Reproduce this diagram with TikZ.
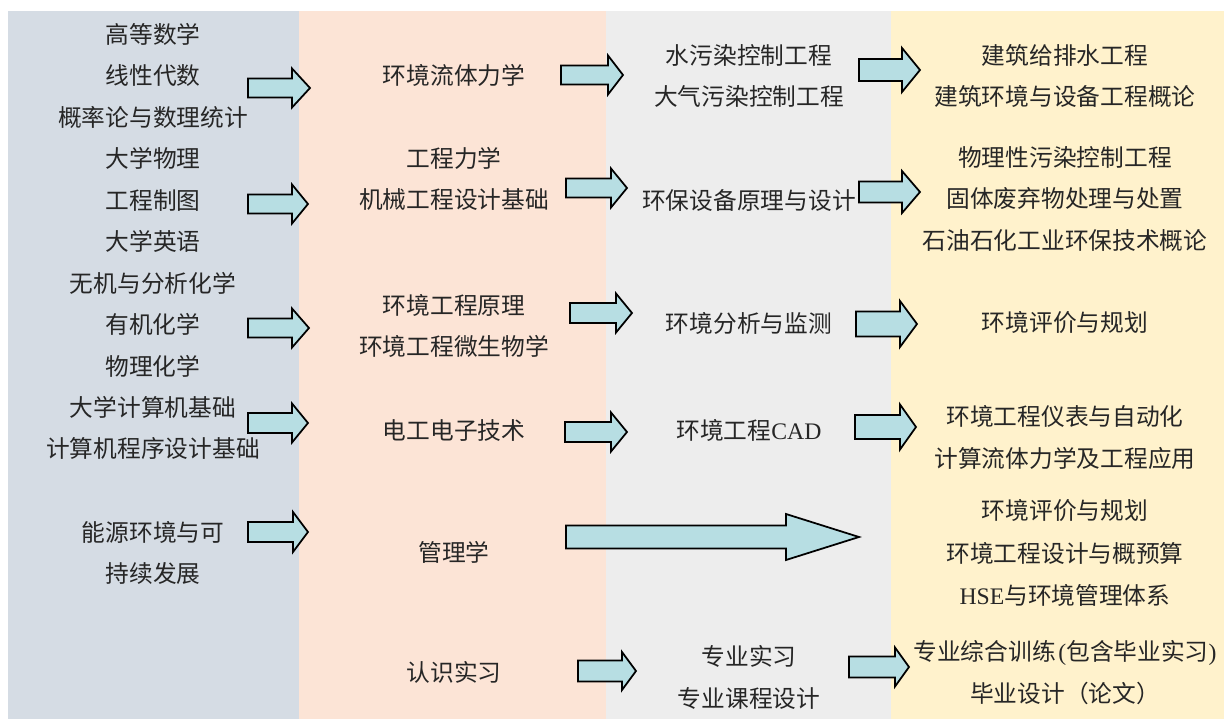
\documentclass[tikz,border=0pt]{standalone}
\usepackage{fontspec}
\setmainfont{Liberation Serif}
\newfontfamily\cjk{Noto Sans CJK SC}

\definecolor{colA}{HTML}{D5DCE4}
\definecolor{colB}{HTML}{FCE4D6}
\definecolor{colC}{HTML}{EDEDED}
\definecolor{colD}{HTML}{FFF2CC}
\definecolor{arrowfill}{HTML}{B7DEE3}

\tikzset{
  course/.style={align=center, inner sep=0pt, text=black!85,
    font=\cjk\fontsize{13.5}{23.6}\selectfont},
  fatarrow/.style={draw=black, fill=arrowfill, line width=1pt, line join=miter}
}

\begin{document}
\begin{tikzpicture}[x=0.02cm,y=-0.02cm]
			\useasboundingbox (0,0) rectangle (1224,719);
			
			% Draw column backgrounds
			\fill[colA] (8,11) rectangle (299,719);
			\fill[colB] (299,11) rectangle (606,719);
			\fill[colC] (606,11) rectangle (891,719);
			\fill[colD] (891,11) rectangle (1224,719);
			
			% Add labels, first column
			\node[course] (a1) at (153,75.5) {高等数学\\线性代数\\概率论与数理统计};
			\node[course] (a2) at (153,200) {大学物理\\工程制图\\大学英语};
			\node[course] (a3) at (153,324.5) {无机与分析化学\\有机化学\\物理化学};
			\node[course] (a4) at (153,428) {大学计算机基础\\计算机程序设计基础};
			\node[course] (a5) at (153,553) {能源环境与可\\持续发展};
			
			% second column
			\node[course] (b1) at (454,75) {环境流体力学};
			\node[course] (b2) at (454,179) {工程力学\\机械工程设计基础};
			\node[course] (b3) at (454,326) {环境工程原理\\环境工程微生物学};
			\node[course] (b4) at (454,430) {电工电子技术};
			\node[course] (b5) at (454,552) {管理学};
			\node[course] (b6) at (454,672) {认识实习};
			
			% third column
			\node[course] (c1) at (749,76) {水污染控制工程\\大气污染控制工程};
			\node[course] (c2) at (749,200) {环保设备原理与设计};
			\node[course] (c3) at (749,323) {环境分析与监测};
			\node[course] (c4) at (749,430) {环境工程{\rmfamily CAD}};
			\node[course] (c6) at (749,677.5) {专业实习\\专业课程设计};
			
			% fourth column
			\node[course] (d1) at (1065,76) {建筑给排水工程\\建筑环境与设备工程概论};
			\node[course] (d2) at (1065,199) {物理性污染控制工程\\固体废弃物处理与处置\\石油石化工业环保技术概论};
			\node[course] (d3) at (1065,323) {环境评价与规划};
			\node[course] (d4) at (1065,437.5) {环境工程仪表与自动化\\计算流体力学及工程应用};
			\node[course,font=\cjk\fontsize{13.5}{24.2}\selectfont] (d5) at (1065,553) {环境评价与规划\\环境工程设计与概预算\\{\rmfamily HSE}与环境管理体系};
			\node[course] (d6) at (1065,672.5) {专业综合训练\kern1.5pt{\rmfamily (}包含毕业实习{\rmfamily )}\\毕业设计（论文）};
			
			% Draw block arrows: start/tip/y/shaft/head/head length
			\foreach \xa/\xt/\yc/\hs/\hh/\hl in {
				248/310/88/9.5/19.5/18, 248/308/204/9.5/19.5/16,
				248/309/328/9.5/19.5/17, 248/308/423/10/19.5/16,
				248/308/532/10/20/15,
				561/623/75/9.5/19.5/15, 566/627/188/9.5/19.5/16,
				570/632/313/10/19.5/16, 565/627/432/10/19.5/16,
				566/859/537/11.5/23/73, 578/636/671/10.5/19/14,
				859/920/70/11/22/18, 859/920/192/10.5/21/18,
				856/917/324/12.5/23/17, 855/916/427/12/22.5/16,
				849/909/667/10.5/19.5/14} {
				\draw[fatarrow] (\xa,\yc-\hs) -- (\xt-\hl,\yc-\hs) -- (\xt-\hl,\yc-\hh)
					-- (\xt,\yc) -- (\xt-\hl,\yc+\hh) -- (\xt-\hl,\yc+\hs) -- (\xa,\yc+\hs) -- cycle;
			}
		\end{tikzpicture}
\end{document}
